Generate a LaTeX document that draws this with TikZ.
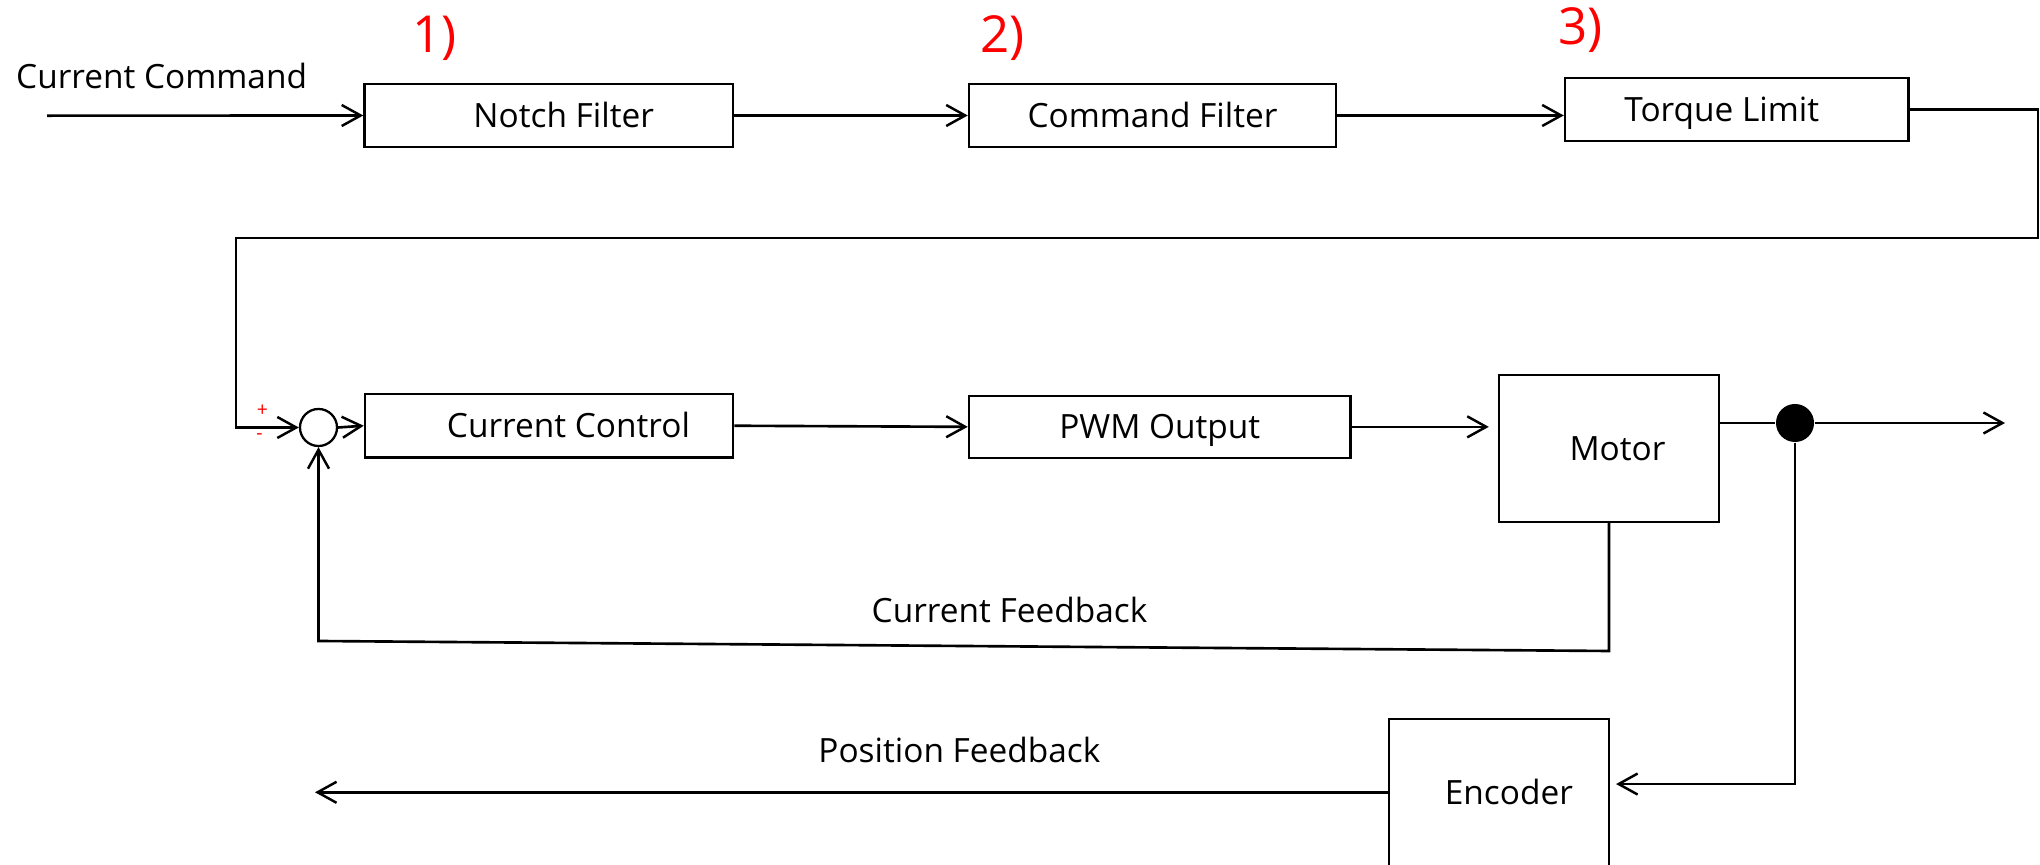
\documentclass[tikz,border=0pt]{standalone}
\usepackage{fontspec}
\setmainfont{Open Sans}
\usetikzlibrary{arrows.meta,calc}

\tikzset{
  blk/.style={draw=black, line width=0.65pt, rectangle, inner sep=0pt,
              text height=0.24cm, text depth=0pt,
              font=\fontsize{9.5}{11}\selectfont},
  wire/.style={draw=black, line width=0.75pt},
  arr/.style={wire, -{Straight Barb[length=1.9mm,width=2.1mm,line width=0.7pt]}},
  lbl/.style={inner sep=0pt, anchor=base west, font=\fontsize{9.5}{11}\selectfont},
  tag/.style={inner sep=0pt, anchor=base west, text=red, font=\fontsize{14.5}{16}\selectfont},
  sgn/.style={inner sep=0pt, text=red, font=\fontsize{5.5}{6}\selectfont},
}

\begin{document}
\begin{tikzpicture}[x=0.01cm, y=-0.01cm]
\useasboundingbox (0,0) rectangle (2040,865);

% command path blocks
\node[blk, minimum width=3.685cm, minimum height=0.63cm] (notch) at (548.75,115.5) {\hspace*{0.3cm}Notch Filter};
\node[blk, minimum width=3.67cm, minimum height=0.63cm] (cmdf) at (1152.5,115.5) {Command Filter};
\node[blk, minimum width=3.435cm, minimum height=0.627cm] (torque) at (1736.75,109.35) {Torque Limit\hspace*{0.3cm}};

% current loop blocks
\node[circle, draw, line width=0.65pt, minimum size=0.37cm, inner sep=0pt] (sum) at (318.5,427.5) {};
\node[blk, minimum width=3.68cm, minimum height=0.635cm] (cc) at (549,425.75) {\hspace*{0.39cm}Current Control};
\node[blk, minimum width=3.815cm, minimum height=0.623cm] (pwm) at (1159.75,426.85) {PWM Output};
\node[blk, minimum width=2.2cm, minimum height=1.467cm] (motor) at (1609,448.35) {\hspace*{0.17cm}Motor};
\node[blk, minimum width=2.2cm, minimum height=1.467cm] (enc) at (1498.85,792.65) {\hspace*{0.2cm}Encoder};
\node[circle, fill=black, minimum size=0.38cm, inner sep=0pt] (dot) at (1795,423) {};

% texts
\node[lbl] (cmdtxt) at (15.5,89) {Current Command};
\node[tag] (t1) at (412,53) {1)};
\node[tag] (t2) at (980,53) {2)};
\node[tag] (t3) at (1558,45) {3)};
\node[lbl] (cfb) at (871,622.7) {Current Feedback};
\node[lbl] (pfb) at (817.7,763) {Position Feedback};
\node[sgn] (plus) at (262.5,411) {+};
\node[sgn] (minus) at (259.6,437) {-};

% free ends and corners
\coordinate (in) at (47,115.7);
\coordinate (c1) at (2038,238);
\coordinate (c2) at (236,238);
\coordinate (out) at (2005,423);
\coordinate (cf1) at (1609,651);
\coordinate (cf2) at (318.5,641);
\coordinate (pout) at (315,792.3);
\coordinate (encin) at ($(enc.east)+(0,-8.6)$);

% command path
\draw[arr] (in) -- (notch.west);
\draw[arr] (notch.east) -- (cmdf.west);
\draw[arr] (cmdf.east) -- (cmdf.east -| torque.west);
\draw[arr] (torque.east) -| (c1) -- (c2) |- (sum.west);

% forward path
\draw[arr] (sum.east) -- (cc.west);
\draw[arr] (cc.east) -- (pwm.west);
\draw[arr, shorten >=0.09cm] (pwm.east) -- (motor.west |- pwm.east);
\draw[wire] (motor.east |- dot) -- (dot);
\draw[arr] (dot) -- (out);

% current feedback
\draw[arr] (motor.south) -- (cf1) -- (cf2) -- (sum.south);

% position feedback
\draw[arr, shorten >=0.06cm] (dot) |- (encin);
\draw[arr] (enc.west |- pout) -- (pout);
\end{tikzpicture}
\end{document}
